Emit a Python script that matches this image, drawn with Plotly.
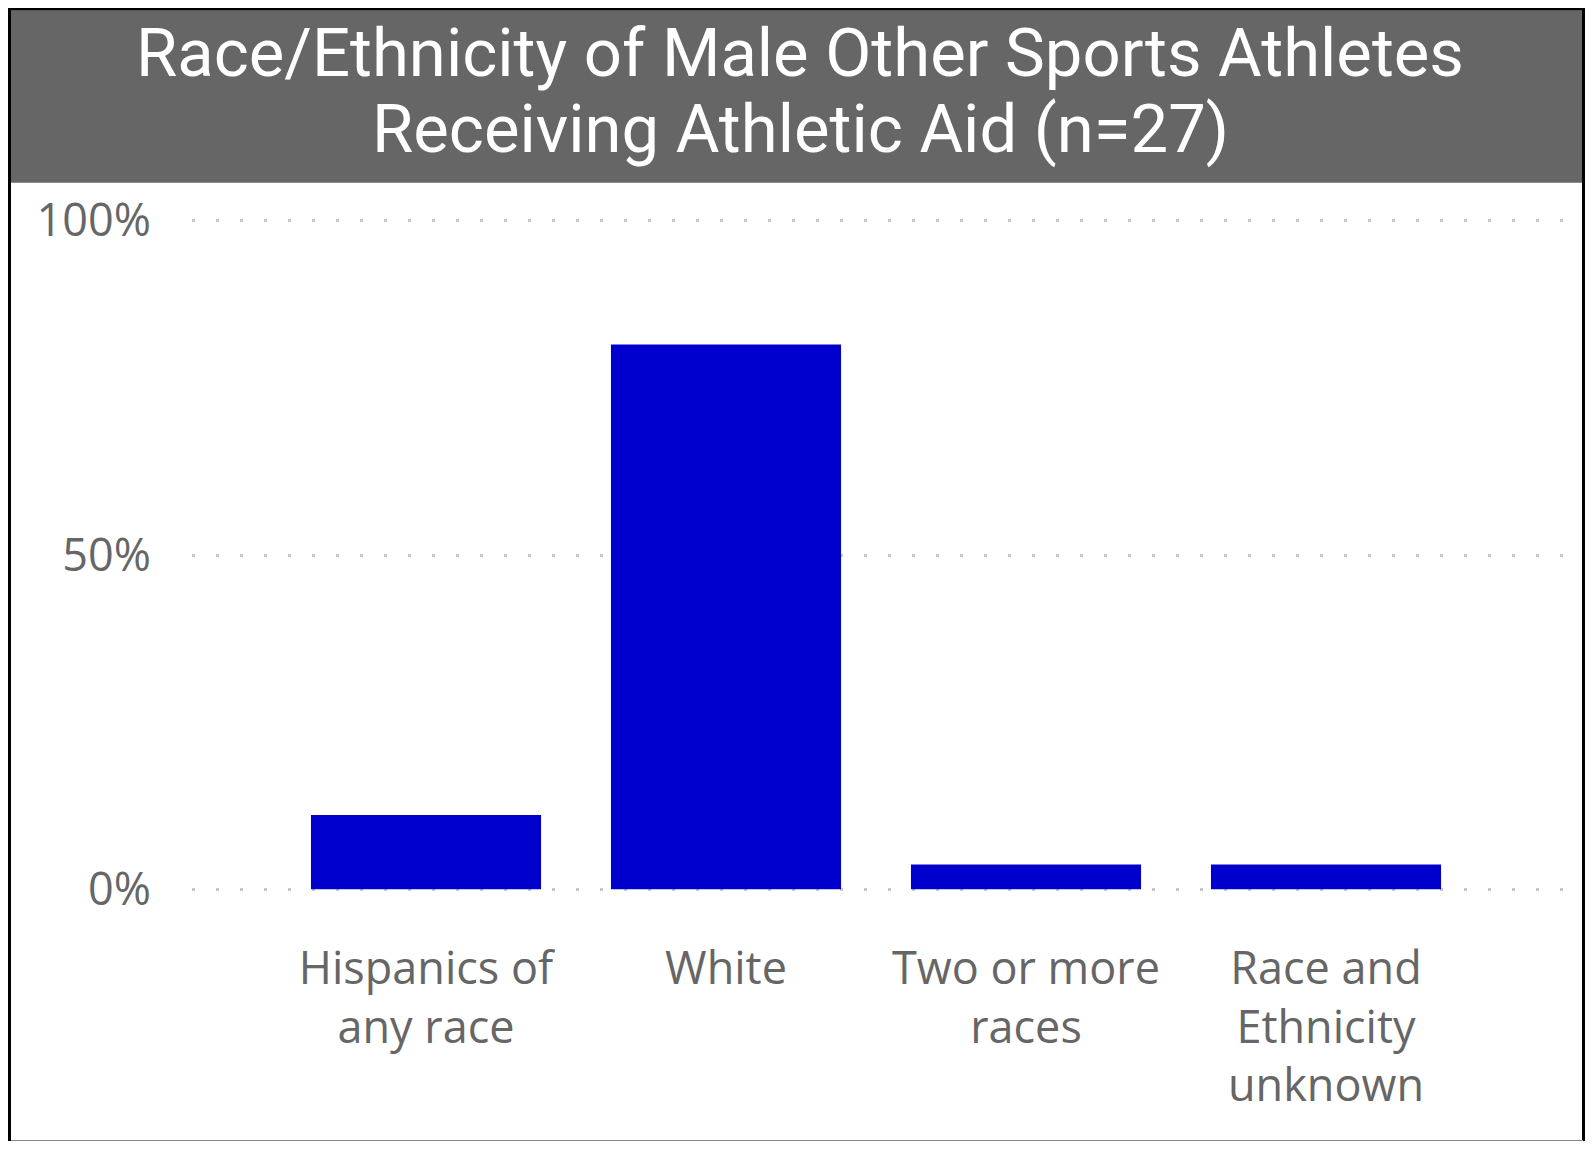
import plotly.graph_objects as go

categories = ["Hispanics of<br>any race", "White", "Two or more<br>races", "Race and<br>Ethnicity<br>unknown"]
values = [3/27, 22/27, 1/27, 1/27]
title_lines = ["Race/Ethnicity of Male Other Sports Athletes", "Receiving Athletic Aid (n=27)"]
y_ticks = [0, 0.5, 1.0]

W, H = 1577, 1133          # page has 8px body margin
PL, PR = 184, 1555          # plot area px (figure coords)
Y0, Y1 = 881, 213           # pixel of 0% and 100%
YMIN, YMAX = -0.01, 1.01
pxu = (Y0 - Y1)             # px per unit
PB = Y0 + (0 - YMIN) * pxu
PT = Y1 - (YMAX - 1) * pxu

def px_x(p):
    return (p - PL) / (PR - PL)

def px_y(p):
    return (PB - p) / (PB - PT)

fig = go.Figure()
fig.add_trace(go.Bar(
    x=list(range(len(categories))), y=values,
    marker=dict(color="#0000CC", line=dict(width=0)),
    width=0.767,
))

shapes = [
    dict(type="rect", xref="paper", yref="paper",
         x0=px_x(3), x1=px_x(1575), y0=px_y(3), y1=px_y(175),
         fillcolor="#666666", line=dict(width=0), layer="below"),
    dict(type="line", xref="paper", yref="paper", x0=px_x(1.5), x1=px_x(1.5), y0=px_y(0), y1=px_y(H),
         line=dict(color="black", width=3)),
    dict(type="line", xref="paper", yref="paper", x0=px_x(0), x1=px_x(W), y0=px_y(1.5), y1=px_y(1.5),
         line=dict(color="black", width=3)),
    dict(type="line", xref="paper", yref="paper", x0=px_x(1576), x1=px_x(1576), y0=px_y(0), y1=px_y(H),
         line=dict(color="black", width=4)),
    dict(type="line", xref="paper", yref="paper", x0=px_x(3), x1=px_x(1575), y0=px_y(1132.3), y1=px_y(1132.3),
         line=dict(color="#888888", width=1.5)),
]

annotations = [
    dict(xref="paper", yref="paper", x=px_x(792), y=px_y(y), text=t, showarrow=False,
         xanchor="center", yanchor="middle",
         font=dict(family="Roboto", size=67, color="white"))
    for t, y in zip(title_lines, [45, 121])
]

fig.update_layout(
    width=W, height=H,
    margin=dict(l=PL, r=W - PR, t=PT, b=H - PB, pad=0),
    paper_bgcolor="white", plot_bgcolor="white",
    showlegend=False,
    shapes=shapes,
    annotations=annotations,
    xaxis=dict(
        range=[-0.78, 3.79],
        tickmode="array", tickvals=list(range(len(categories))), ticktext=categories,
        showgrid=False, zeroline=False, showline=False,
        ticks="", ticklabelstandoff=42,
        tickfont=dict(family="Segoe UI, Open Sans, Noto Sans", size=45, color="#666666"),
    ),
    yaxis=dict(
        range=[YMIN, YMAX],
        tickmode="array", tickvals=y_ticks, tickformat=".0%",
        showgrid=True, gridcolor="#c8c8c8", gridwidth=3, griddash="3px,21px",
        zeroline=False, showline=False, ticks="", ticklabelstandoff=40,
        tickfont=dict(family="Segoe UI, Open Sans, Noto Sans", size=45, color="#666666"),
    ),
)

fig.write_html("out.html")
